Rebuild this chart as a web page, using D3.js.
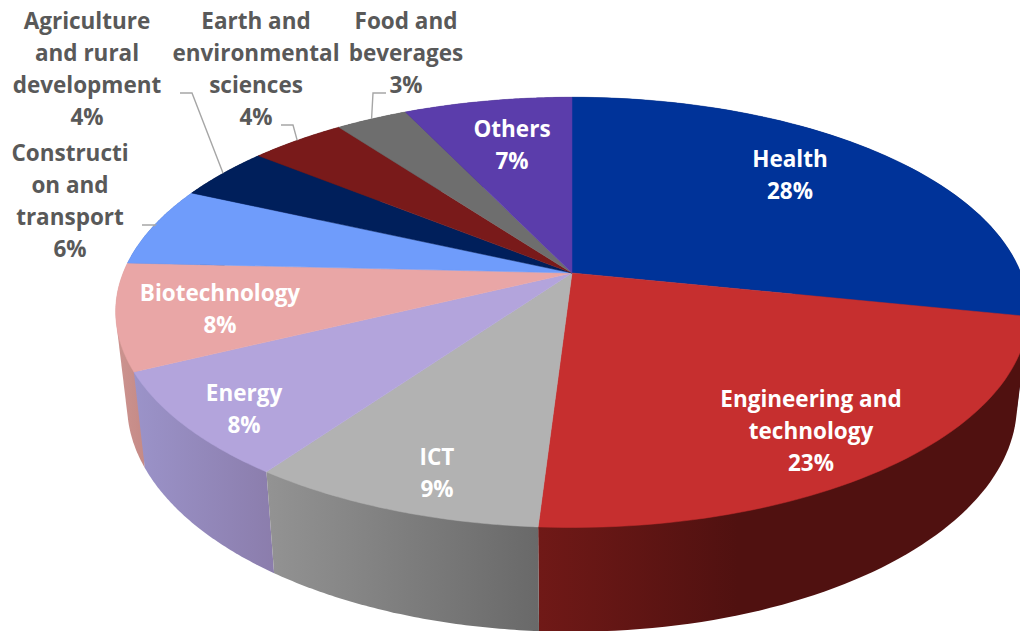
<!DOCTYPE html>
<html><head><meta charset="utf-8">
<script src="https://cdn.jsdelivr.net/npm/d3@7/dist/d3.min.js"></script>
<style>html,body{margin:0;padding:0;background:#fff;overflow:hidden}svg{display:block}</style>
</head><body><div id="chart"></div>
<script>
const categories = ["Health","Engineering and technology","ICT","Energy","Biotechnology","Construction and transport","Agriculture and rural development","Earth and environmental sciences","Food and beverages","Others"];
const shares = [28,23,9,8,8,6,4,4,3,7];
const labelLines = [["Health"],["Engineering and","technology"],["ICT"],["Energy"],["Biotechnology"],["Constructi","on and","transport"],["Agriculture","and rural","development"],["Earth and","environmental","sciences"],["Food and","beverages"],["Others"]];

const colors = ["#003399","#c62f2f","#b2b2b2","#b3a4dc","#e9a6a6","#6f9cfb","#001f5b","#791a1a","#6e6e6e","#5b3dab"];
const sideFrom = ["#001a4d","#701917","#939393","#9b93c9","#cc9490","#4a6ba8","#00102e","#3d0d0d","#373737","#2e1f56"];
const sideTo   = ["#001a4d","#501110","#696969","#8b7dac","#c58a86","#4a6ba8","#00102e","#3d0d0d","#373737","#2e1f56"];
const labelX = [790,811,437,244,220,70,87,256,406,512];
const labelTop = [159,399,457,393,293,153,21,21,21,129];
const labelFill = ["#fff","#fff","#fff","#fff","#fff","#595959","#595959","#595959","#595959","#fff"];
const leaderElbow = [null,null,null,null,null,[155,225],[192,93],[293,125],[373,93],null];
const leaderEnd   = [null,null,null,null,null,[142,225],[180,93],[281,125],[386,93],null];

const W=1020,H=631,cx=572,apexY=273,R=450,ux=0.166,uy=0.169;
const svg=d3.select("#chart").append("svg").attr("width",W).attr("height",H).attr("viewBox",`0 0 ${W} ${H}`);
const defs=svg.append("defs");

// perspective projection of the top disc and the lower rim
const project=(a,xScale,yCentre,yRadius)=>[cx+xScale*R*Math.sin(a)/(1+ux*Math.cos(a)), yCentre-yRadius*Math.cos(a)/(1+uy*Math.cos(a))];
const topP=a=>project(a,1,276,209);
const botP=a=>project(a,0.975,367,220);
const arcs=d3.pie().sort(null).value(d=>d)(shares);
const steps=(a,b)=>d3.range(0,61).map(i=>d3.interpolateNumber(a,b)(i/60));
const line=d3.line();

// side walls: hull of each slice's top and lower rim arcs gives the outer silhouette
arcs.forEach((d,i)=>{
  const st=steps(d.startAngle,d.endAngle);
  const pts=d3.polygonHull(st.map(topP).concat(st.map(botP)));
  const xe=d3.extent(pts,p=>p[0]);
  const id="side"+i;
  const g=defs.append("linearGradient").attr("id",id).attr("gradientUnits","userSpaceOnUse")
    .attr("x1",xe[0]).attr("x2",i===1?xe[0]+200:xe[1]).attr("y1",0).attr("y2",0);
  g.append("stop").attr("offset",0).attr("stop-color",sideFrom[i]);
  g.append("stop").attr("offset",1).attr("stop-color",sideTo[i]);
  d.side={pts,id};
});
const order=arcs.map((d,i)=>i).sort((a,b)=>Math.cos(arcs[a].startAngle/2+arcs[a].endAngle/2)<Math.cos(arcs[b].startAngle/2+arcs[b].endAngle/2)?1:-1);
svg.append("g").selectAll("path").data(order).join("path")
  .attr("d",i=>line(arcs[i].side.pts)+"Z")
  .attr("fill",i=>`url(#${arcs[i].side.id})`);

// top disc
svg.append("g").selectAll("path").data(arcs).join("path")
  .attr("d",d=>line([[cx,apexY]].concat(steps(d.startAngle,d.endAngle).map(topP)))+"Z")
  .attr("fill",(d,i)=>colors[i]).attr("stroke",(d,i)=>colors[i]).attr("stroke-width",0.5);

// leader lines
svg.append("g").selectAll("path").data(arcs.map((d,i)=>({d,i})).filter(o=>leaderElbow[o.i])).join("path")
  .attr("d",o=>line([topP((o.d.startAngle+o.d.endAngle)/2),leaderElbow[o.i],leaderEnd[o.i]]))
  .attr("fill","none").attr("stroke","#a6a6a6").attr("stroke-width",1.4);

// labels
const lh=32;
const labels=svg.append("g").attr("font-family","'Open Sans','Noto Sans',sans-serif").attr("font-weight",700).attr("font-size",22.5).attr("text-anchor","middle");
categories.forEach((c,i)=>{
  const ls=labelLines[i].concat([shares[i]+"%"]);
  const t=labels.append("text").attr("fill",labelFill[i]);
  ls.forEach((s,j)=>t.append("tspan").attr("x",labelX[i]).attr("y",labelTop[i]+j*lh+8).text(s));
});
</script></body></html>
